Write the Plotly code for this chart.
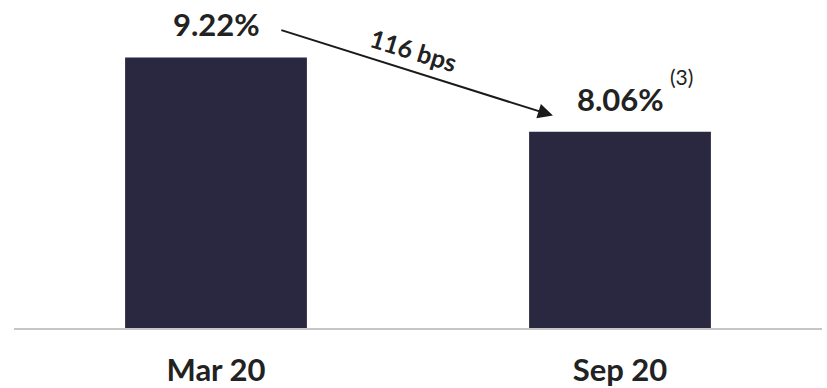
import plotly.graph_objects as go

categories = ["Mar 20", "Sep 20"]
values = [9.22, 8.06]
value_labels = ["9.22%", "8.06%"]
change_label = "116 bps"
footnote = "(3)"

BAR = "#292840"
TXT = "#222222"
FONT = "Lato"

fig = go.Figure()
fig.add_trace(go.Bar(
    x=categories, y=values,
    marker=dict(color=BAR, line=dict(width=0)),
    width=0.45, hoverinfo="skip",
))

annotations = []
for c, v, t in zip(categories, values, value_labels):
    annotations.append(dict(
        x=c, y=v, text=f"<b>{t}</b>", showarrow=False,
        xref="x", yref="y", yanchor="bottom", yshift=12,
        font=dict(family=FONT, size=31, color=TXT),
    ))

# superscript footnote next to the second label
annotations.append(dict(
    x=categories[1], y=values[1], text=footnote, showarrow=False,
    xref="x", yref="y", xanchor="left", yanchor="bottom",
    xshift=48, yshift=41,
    font=dict(family=FONT, size=21, color=TXT),
))

# arrow between labels
annotations.append(dict(
    x=0.834, y=8.313, ax=0.158, ay=9.653,
    xref="x", yref="y", axref="x", ayref="y",
    text="", showarrow=True, arrowhead=2, arrowsize=1.5, arrowwidth=2,
    arrowcolor="#1a1a1a", standoff=0, startstandoff=0,
))
annotations.append(dict(
    x=0.49, y=9.33, xref="x", yref="y",
    text=f"<b>{change_label}</b>", showarrow=False, textangle=17,
    font=dict(family=FONT, size=25, color=TXT),
))

fig.update_layout(
    width=827, height=388,
    margin=dict(l=14, r=5, t=0, b=56),
    paper_bgcolor="white", plot_bgcolor="white",
    showlegend=False, bargap=0.55,
    annotations=annotations,
    xaxis=dict(
        type="category", range=[-0.5, 1.5],
        showline=True, linecolor="#c6c6c6", linewidth=2,
        showgrid=False, zeroline=False, ticks="",
        tickfont=dict(family=FONT, size=31, color=TXT),
        ticklabelstandoff=14,
        tickvals=categories, ticktext=[f"<b>{c}</b>" for c in categories],
    ),
    yaxis=dict(
        range=[5, 10.116], visible=False, showgrid=False, zeroline=False,
    ),
)

fig.write_html("out.html")
